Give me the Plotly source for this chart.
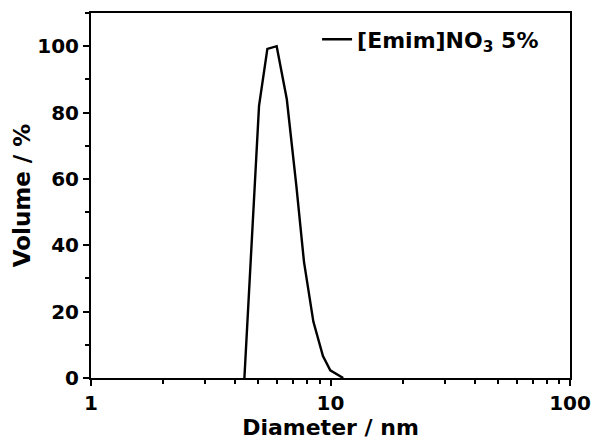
import plotly.graph_objects as go

diameter_nm = [4.37, 5.03, 5.45, 5.96, 6.57, 7.2, 7.75, 8.48, 9.3, 9.98, 11.3]
volume_pct = [0, 82, 99.2, 100, 84, 58, 35, 17, 6.6, 2.3, 0]
series_name = "[Emim]NO<sub>3</sub> 5%"
x_major = [1, 10, 100]
x_minor = [2, 3, 4, 5, 6, 7, 8, 9, 20, 30, 40, 50, 60, 70, 80, 90]

font_family = "DejaVu Sans, Liberation Sans, Arial, sans-serif"

fig = go.Figure()
fig.add_trace(go.Scatter(
    x=diameter_nm, y=volume_pct, mode="lines", name=series_name,
    line=dict(color="black", width=2.4),
))

fig.update_layout(
    width=592, height=444,
    margin=dict(l=91, r=22, t=13, b=66, autoexpand=False),
    paper_bgcolor="white", plot_bgcolor="white",
    font=dict(family=font_family, color="black"),
    showlegend=True,
    legend=dict(
        x=0.472, y=0.985, xanchor="left", yanchor="top",
        bgcolor="rgba(0,0,0,0)",
        font=dict(size=22, family=font_family, color="black", weight="bold"),
    ),
)

fig.update_xaxes(
    type="log", range=[0, 2], automargin=False,
    tickvals=x_major, ticktext=[str(v) for v in x_major],
    ticks="outside", ticklen=6, tickwidth=2, tickcolor="black",
    tickfont=dict(size=20, family=font_family, weight="bold"),
    showline=True, linecolor="black", linewidth=2, mirror=True,
    showgrid=False, zeroline=False,
    minor=dict(tickvals=x_minor, ticks="outside", ticklen=4, tickwidth=2, tickcolor="black", showgrid=False),
    title=dict(text="Diameter / nm", font=dict(size=22, family=font_family, weight="bold"), standoff=2),
)
fig.update_yaxes(
    range=[0, 110], dtick=20, tick0=0, automargin=False,
    ticks="outside", ticklen=6, tickwidth=2, tickcolor="black",
    tickfont=dict(size=20, family=font_family, weight="bold"),
    showline=True, linecolor="black", linewidth=2, mirror=True,
    showgrid=False, zeroline=False,
    minor=dict(dtick=10, ticks="outside", ticklen=4, tickwidth=2, tickcolor="black", showgrid=False),
    title=dict(text="Volume / %", font=dict(size=23, family=font_family, weight="bold"), standoff=0),
)

fig.write_html("out.html")
